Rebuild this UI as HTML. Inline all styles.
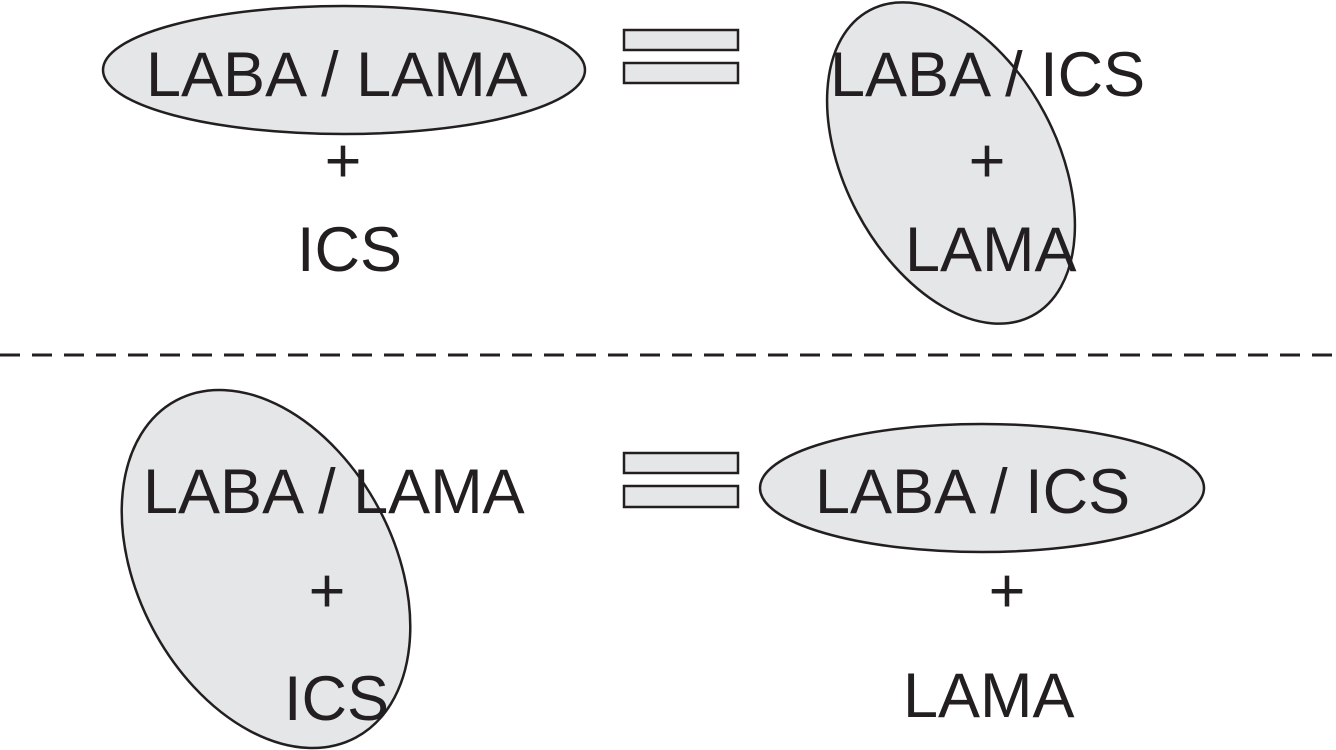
<!DOCTYPE html>
<html><head><meta charset="utf-8"><style>
html,body{margin:0;padding:0;background:#fff;width:1336px;height:750px;overflow:hidden;}
svg{display:block;}
text{font-family:"Liberation Sans",sans-serif;font-size:63px;fill:#231f20;}
</style></head><body>
<svg width="1336" height="750" viewBox="0 0 1336 750" xmlns="http://www.w3.org/2000/svg">
<g fill="#e4e6e8" stroke="#231f20" stroke-width="2.5">
<ellipse cx="344" cy="70" rx="241" ry="64"/>
<ellipse cx="951" cy="163" rx="106" ry="173" transform="rotate(-28 951 163)"/>
<ellipse cx="266" cy="569" rx="128" ry="191" transform="rotate(-28 266 569)"/>
<ellipse cx="982" cy="488" rx="222" ry="64"/>
</g>
<g fill="#e4e6e8" stroke="#231f20" stroke-width="2.5">
<rect x="624" y="30" width="114" height="20"/>
<rect x="624" y="63" width="114" height="20"/>
<rect x="624" y="453" width="114" height="20"/>
<rect x="624" y="486" width="114" height="21"/>
</g>
<line x1="0" y1="355" x2="1336" y2="355" stroke="#231f20" stroke-width="3" stroke-dasharray="20,12"/>
<text x="146" y="96">LABA / LAMA</text>
<text x="343" y="182" text-anchor="middle">+</text>
<text x="297" y="271">ICS</text>
<text x="830" y="96">LABA / ICS</text>
<text x="987" y="182" text-anchor="middle">+</text>
<text x="905" y="271">LAMA</text>
<text x="143" y="513">LABA / LAMA</text>
<text x="327" y="612" text-anchor="middle">+</text>
<text x="284" y="720">ICS</text>
<text x="815" y="513">LABA / ICS</text>
<text x="1007" y="612" text-anchor="middle">+</text>
<text x="903" y="717">LAMA</text>
</svg>
</body></html>
